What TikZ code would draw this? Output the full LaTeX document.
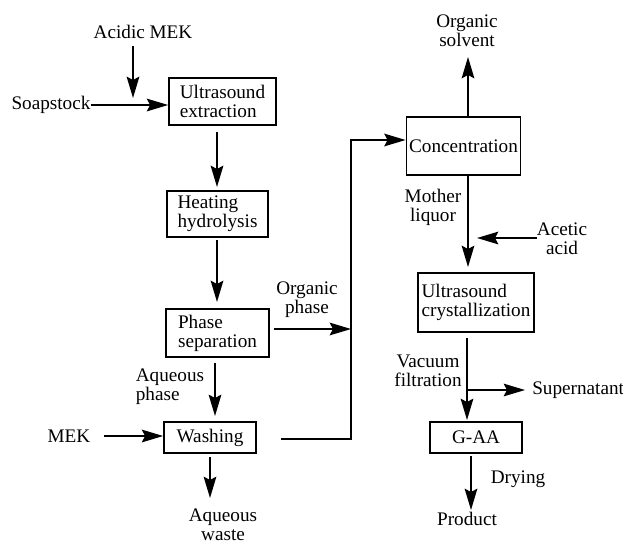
\documentclass[tikz,border=0pt]{standalone}
\usepackage{fontspec}
\setmainfont{Liberation Serif}
\usetikzlibrary{arrows.meta}
\begin{document}
\begin{tikzpicture}[x=0.75pt,y=-0.75pt,
  every node/.style={font=\fontsize{14.4}{14.4}\selectfont},
  box/.style={draw,line width=1.3pt,align=left,inner sep=2pt},
  lbl/.style={inner sep=0pt,align=center},
  flow/.style={line width=1.3pt,-{Stealth[length=16pt,width=9.5pt,inset=2.5pt]}},
  plain/.style={line width=1.3pt}]
\useasboundingbox (0,0) rectangle (623,546);
% boxes
\node[box,minimum width=80.25pt,minimum height=35.25pt] (ext) at (222.5,101.5) {Ultrasound\\extraction};
\node[box,minimum width=75.75pt,minimum height=34.5pt] (heat) at (217.5,214) {Heating\\hydrolysis};
\node[box,minimum width=77.25pt,minimum height=36pt] (phase) at (217.5,333) {Phase\\separation};
\node[box,minimum width=69pt,minimum height=23.25pt] (wash) at (210,437.5) {Washing};
\node[box,minimum width=84.75pt,minimum height=43.5pt] (conc) at (463.5,146) {Concentration};
\node[box,minimum width=87pt,minimum height=44.25pt] (cryst) at (476,302.5) {Ultrasound\\crystallization};
\node[box,minimum width=69pt,minimum height=23.25pt,align=center] (gaa) at (476,437.5) {G-AA};
% labels
\node[lbl] (amek) at (143,32) {Acidic MEK};
\node[lbl] (soap) at (51,105) {Soapstock};
\node[lbl] (orgph) at (307,300) {Organic\\phase};
\node[lbl,align=left] (aqph) at (170,387) {Aqueous\\phase};
\node[lbl] (mek) at (69,436) {MEK};
\node[lbl] (waste) at (223,525) {Aqueous\\waste};
\node[lbl] (solv) at (467,31) {Organic\\solvent};
\node[lbl] (mother) at (433,207) {Mother\\liquor};
\node[lbl] (acetic) at (562,239) {Acetic\\acid};
\node[lbl] (vac) at (428,371) {Vacuum\\filtration};
\node[lbl,anchor=west] (super) at (532,390) {Supernatant};
\node[lbl] (dry) at (518,479) {Drying};
\node[lbl] (prod) at (467,519) {Product};
% coordinates
\coordinate (a1) at (133,46);
\coordinate (a2) at (133,98);
\coordinate (e1) at (217,132);
\coordinate (e2) at (217,187);
\coordinate (h1) at (217,240);
\coordinate (h2) at (217,302);
\coordinate (p1) at (215,363);
\coordinate (p2) at (215,416);
\coordinate (p3) at (274,329);
\coordinate (p4) at (351,329);
\coordinate (w1) at (281,439);
\coordinate (w2) at (351,439);
\coordinate (w3) at (351,140);
\coordinate (m1) at (104,436);
\coordinate (w4) at (210,457);
\coordinate (w5) at (210,498);
\coordinate (c1) at (468,117);
\coordinate (c2) at (468,57);
\coordinate (c3) at (468,175);
\coordinate (c4) at (468,267);
\coordinate (ac1) at (537,238);
\coordinate (ac2) at (477,238);
\coordinate (k1) at (467,338);
\coordinate (k2) at (467,420);
\coordinate (k3) at (467,390);
\coordinate (k4) at (525,390);
\coordinate (g1) at (471,456);
\coordinate (g2) at (471,510);
% connectors
\draw[flow] (a1) -- (a2);
\draw[flow] (soap.east) -- (soap.east -| ext.west);
\draw[flow] (e1) -- (e2);
\draw[flow] (h1) -- (h2);
\draw[flow] (p1) -- (p2);
\draw[flow] (p3) -- (p4);
\draw[flow] (w1) -- (w2) -- (w3) -- (w3 -| conc.west);
\draw[flow] (m1) -- (m1 -| wash.west);
\draw[flow] (w4) -- (w5);
\draw[flow] (c1) -- (c2);
\draw[flow] (c3) -- (c4);
\draw[flow] (ac1) -- (ac2);
\draw[flow] (k1) -- (k2);
\draw[flow] (k3) -- (k4);
\draw[flow] (g1) -- (g2);
\end{tikzpicture}
\end{document}
